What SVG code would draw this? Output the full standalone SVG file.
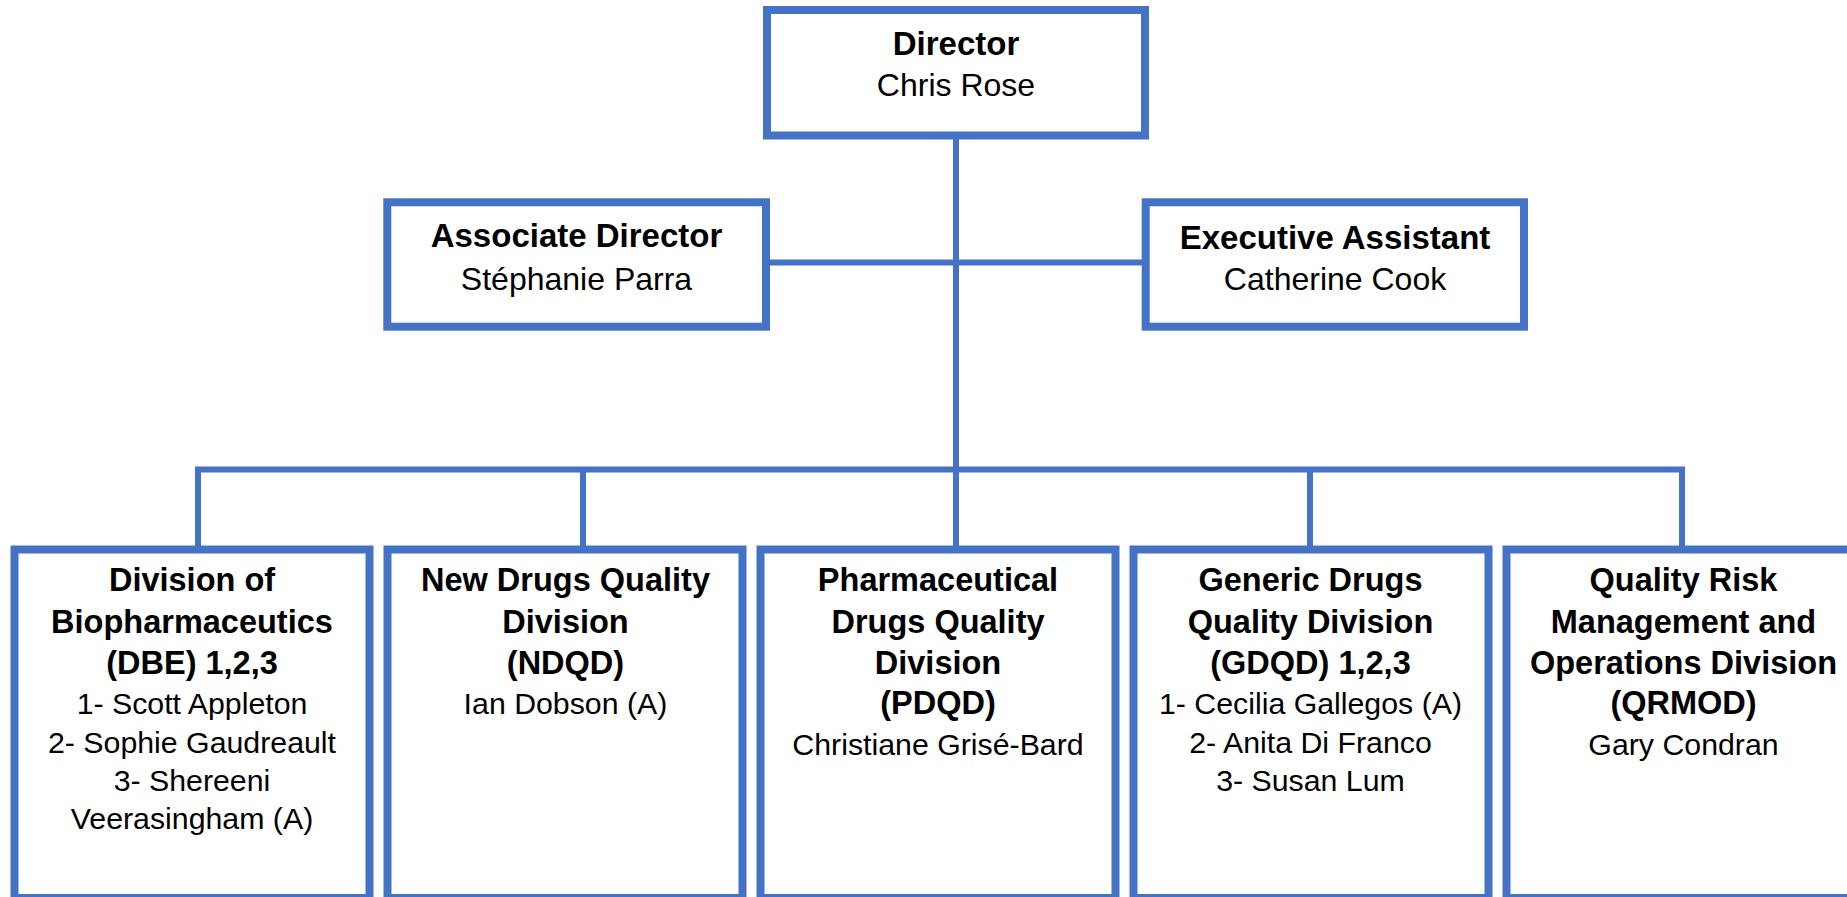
<svg xmlns="http://www.w3.org/2000/svg" width="1847" height="897" viewBox="0 0 1847 897">
<style>
.box{fill:#ffffff;stroke:#4472C4;stroke-width:8}
.conn{stroke:#4472C4;stroke-width:6;fill:none}
text{font-family:"Liberation Sans",Arial,sans-serif;fill:#000000;text-anchor:middle}
.tb{font-weight:bold;font-size:33px}
.tr{font-size:32px}
.bb{font-weight:bold;font-size:32.5px}
.br{font-size:30.3px}
</style>
<rect width="1847" height="897" fill="#ffffff"/>
<g id="connectors">
<line class="conn" x1="956" y1="135" x2="956" y2="549"/>
<line class="conn" x1="766" y1="262.5" x2="1146" y2="262.5"/>
<polyline class="conn" points="198,549 198,469.5 1682,469.5 1682,549"/>
<line class="conn" x1="583" y1="469.5" x2="583" y2="549"/>
<line class="conn" x1="1310" y1="469.5" x2="1310" y2="549"/>
</g>
<g id="director">
<rect class="box" x="767" y="10" width="378" height="125.5"/>
<text class="tb" x="956" y="55">Director</text>
<text class="tr" x="956" y="96">Chris Rose</text>
</g>
<g id="associate-director">
<rect class="box" x="387.3" y="202.3" width="378.7" height="124.4"/>
<text class="tb" x="576.5" y="246.5">Associate Director</text>
<text class="tr" x="576.5" y="289.5">Stéphanie Parra</text>
</g>
<g id="executive-assistant">
<rect class="box" x="1145.7" y="202.3" width="378.3" height="124.4"/>
<text class="tb" x="1335" y="248.5">Executive Assistant</text>
<text class="tr" x="1335" y="290">Catherine Cook</text>
</g>
<g id="dbe">
<rect class="box" x="14.5" y="549.5" width="355" height="348.5"/>
<text class="bb" x="192" y="591">Division of</text>
<text class="bb" x="192" y="632.5">Biopharmaceutics</text>
<text class="bb" x="192" y="673.5">(DBE) 1,2,3</text>
<text class="br" x="192" y="714">1- Scott Appleton</text>
<text class="br" x="192" y="752.5">2- Sophie Gaudreault</text>
<text class="br" x="192" y="791">3- Shereeni</text>
<text class="br" x="192" y="829.3">Veerasingham (A)</text>
</g>
<g id="ndqd">
<rect class="box" x="387.5" y="549.5" width="355" height="348.5"/>
<text class="bb" x="565.5" y="591">New Drugs Quality</text>
<text class="bb" x="565.5" y="632.5">Division</text>
<text class="bb" x="565.5" y="673.5">(NDQD)</text>
<text class="br" x="565.5" y="714">Ian Dobson (A)</text>
</g>
<g id="pdqd">
<rect class="box" x="760.5" y="549.5" width="355" height="348.5"/>
<text class="bb" x="938" y="591">Pharmaceutical</text>
<text class="bb" x="938" y="632.5">Drugs Quality</text>
<text class="bb" x="938" y="673.5">Division</text>
<text class="bb" x="938" y="714.3">(PDQD)</text>
<text class="br" x="938" y="755">Christiane Grisé-Bard</text>
</g>
<g id="gdqd">
<rect class="box" x="1133.5" y="549.5" width="355" height="348.5"/>
<text class="bb" x="1310.5" y="591">Generic Drugs</text>
<text class="bb" x="1310.5" y="632.5">Quality Division</text>
<text class="bb" x="1310.5" y="673.5">(GDQD) 1,2,3</text>
<text class="br" x="1310.5" y="714">1- Cecilia Gallegos (A)</text>
<text class="br" x="1310.5" y="752.5">2- Anita Di Franco</text>
<text class="br" x="1310.5" y="791">3- Susan Lum</text>
</g>
<g id="qrmod">
<rect class="box" x="1506.5" y="549.5" width="355" height="348.5"/>
<text class="bb" x="1683.5" y="591">Quality Risk</text>
<text class="bb" x="1683.5" y="632.5">Management and</text>
<text class="bb" x="1683.5" y="673.5">Operations Division</text>
<text class="bb" x="1683.5" y="714.3">(QRMOD)</text>
<text class="br" x="1683.5" y="755">Gary Condran</text>
</g>
</svg>
